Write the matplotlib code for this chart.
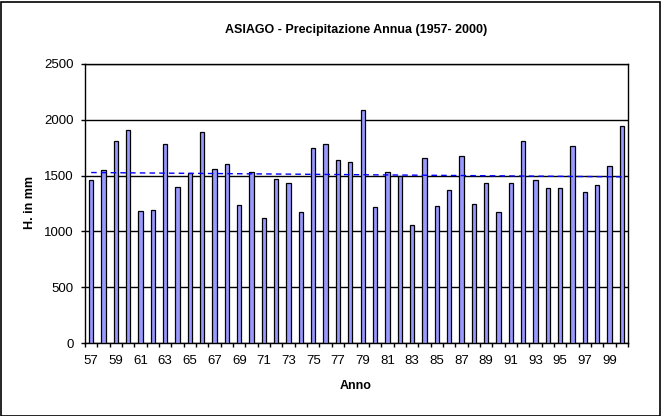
import matplotlib
matplotlib.use("Agg")
import matplotlib.pyplot as plt
import numpy as np
from matplotlib.patches import Rectangle

years = ["57","58","59","60","61","62","63","64","65","66","67","68","69","70","71","72",
         "73","74","75","76","77","78","79","80","81","82","83","84","85","86","87","88",
         "89","90","91","92","93","94","95","96","97","98","99","00"]
precip = [1460,1550,1813,1909,1183,1192,1783,1401,1526,1891,1562,1604,1237,1532,1120,1470,
          1434,1174,1747,1783,1640,1622,2088,1219,1532,1497,1057,1658,1228,1371,1676,1246,
          1434,1174,1434,1810,1460,1389,1389,1765,1353,1416,1586,1945]

title = "ASIAGO - Precipitazione Annua (1957- 2000)"
xlabel = "Anno"
ylabel = "H. in mm"
yticks = [0, 500, 1000, 1500, 2000, 2500]

plt.rcParams['font.family'] = ['Liberation Sans', 'DejaVu Sans']

fig = plt.figure(figsize=(6.61, 4.16), dpi=100)
fig.patch.set_facecolor("white")
W, H = 661, 416
ax = fig.add_axes([85/W, 1-343/H, (628-85)/W, (343-64)/H])

x = np.arange(len(years))
ax.bar(x, precip, width=0.35, color="#9999FF", edgecolor="black", linewidth=0.9, zorder=3)

# trend line
coef = np.polyfit(x, precip, 1)
xt = np.array([x[0], x[-1]])
ax.plot(xt, np.polyval(coef, xt), color="#0000FF", linestyle=(0, (4, 3)), linewidth=1.0, zorder=4)

ax.set_xlim(-0.5, len(years) - 0.5)
ax.set_ylim(0, 2500)
ax.set_yticks(yticks)
ax.set_yticklabels([str(v) for v in yticks], fontsize=9.5)
ax.yaxis.grid(True, color="black", linewidth=1.0, zorder=0)
ax.set_axisbelow(True)

ax.set_xticks(x[::2])
ax.set_xticklabels(years[::2], fontsize=9.5)
ax.tick_params(axis='x', length=0, pad=9)
ax.set_xticks(np.arange(-0.5, len(years), 1), minor=True)
ax.tick_params(axis='x', which='minor', length=3, direction='out', width=1)
ax.tick_params(axis='y', length=3, direction='out', width=1, pad=5)

for s in ax.spines.values():
    s.set_linewidth(1.0)
    s.set_color("black")

fig.text(356/W, 1-30/H, title, ha="center", va="center", fontsize=9, fontweight="bold")
fig.text(356/W, 1-386/H, xlabel, ha="center", va="center", fontsize=9, fontweight="bold")
fig.text(30/W, 1-203/H, ylabel, ha="center", va="center", fontsize=9, fontweight="bold", rotation=90)

fig.patches.append(Rectangle((0.5/W, 0.5/H), 1-2/W, 1-2/H, transform=fig.transFigure,
                             fill=False, edgecolor="black", linewidth=1.2))

fig.savefig("out.png", dpi=100)
